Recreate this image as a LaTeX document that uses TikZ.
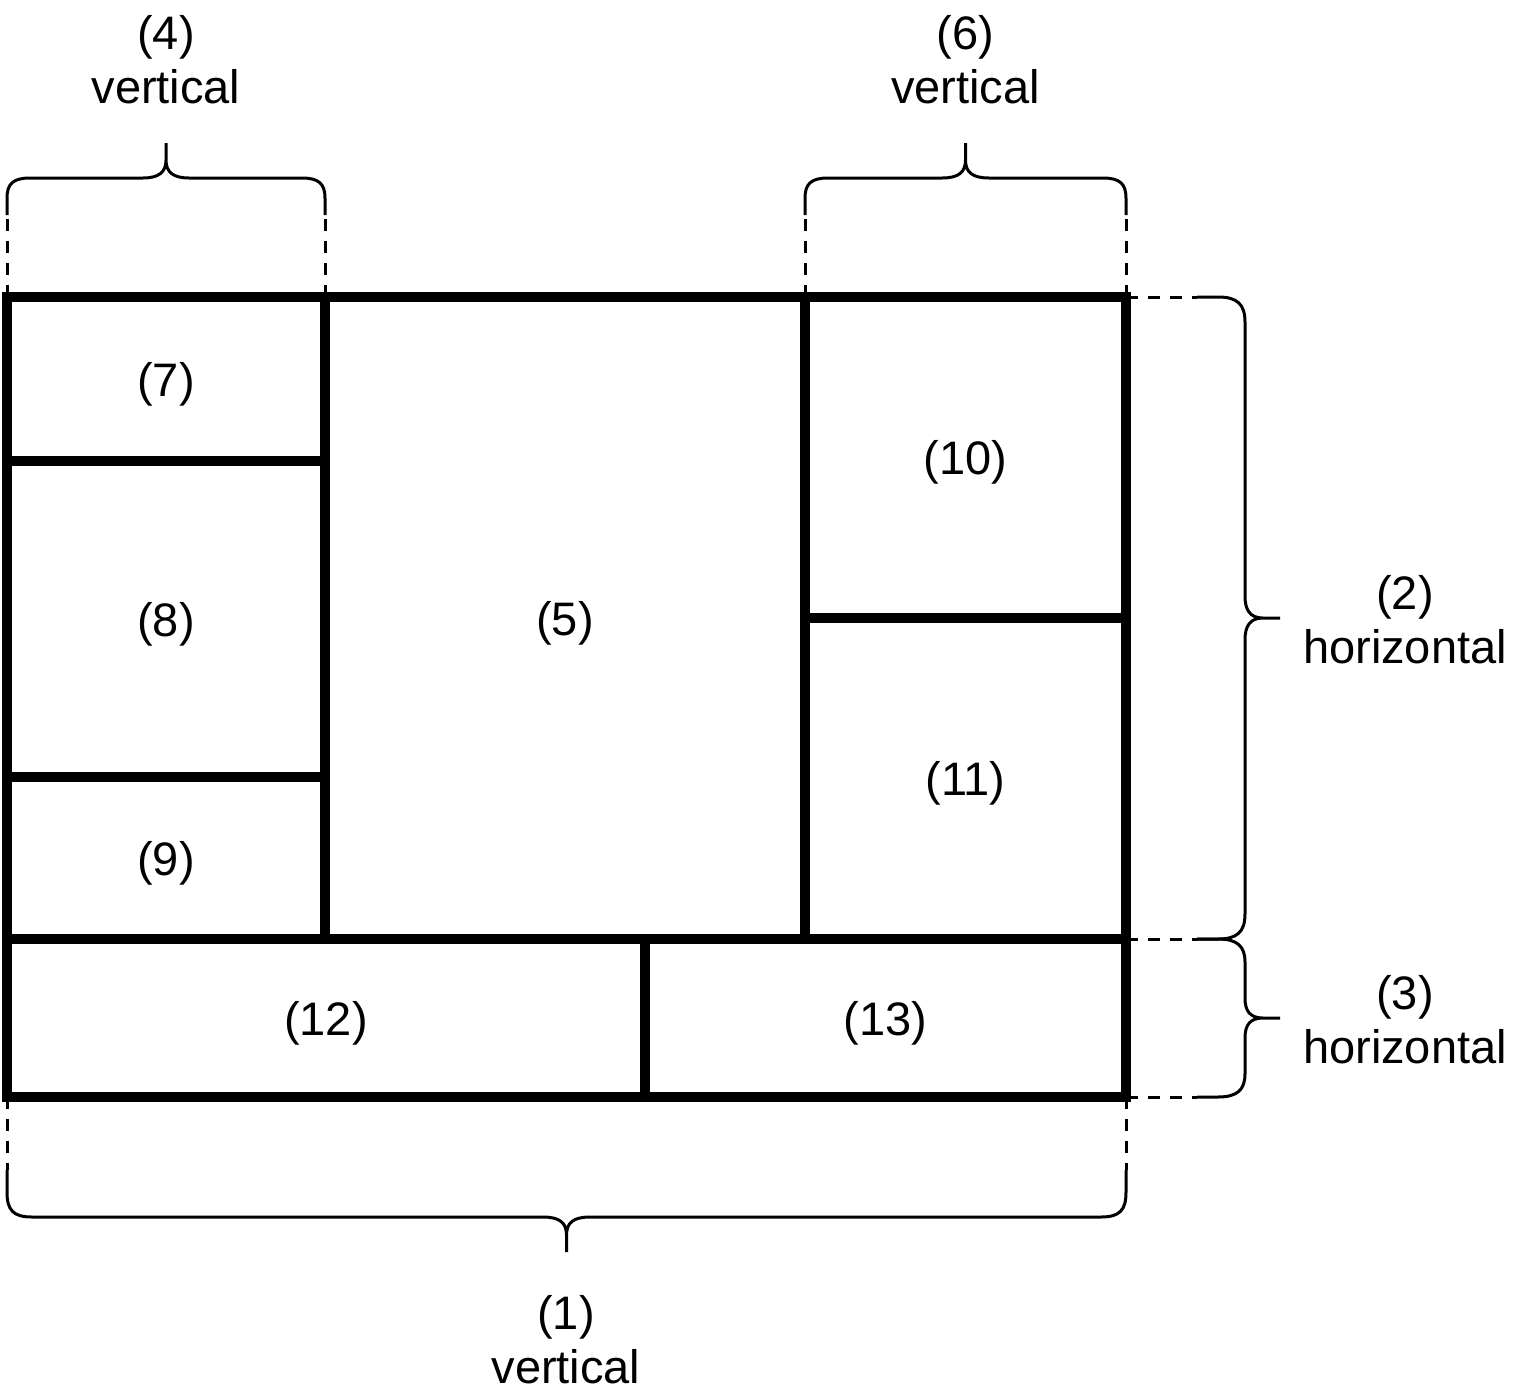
\documentclass[tikz,border=0pt]{standalone}
\usepackage{fontspec}
\setmainfont{Liberation Sans}
\begin{document}
\begin{tikzpicture}[x=1pt,y=-1pt,
  region/.style={draw=black, line width=10pt, inner sep=0pt, outer sep=0pt, text height=44pt, text depth=10pt, font=\fontsize{47}{54}\selectfont},
  lbl/.style={align=center, inner sep=0pt, font=\fontsize{47}{54}\selectfont},
  guide/.style={draw=black, line width=3pt, dash pattern=on 12pt off 10pt},
  brace/.style={draw=black, line width=3pt}]
\useasboundingbox (0,0) rectangle (1532,1392);
% regions
\node[region, minimum width=318pt, minimum height=164pt] (r7) at (166,379) {(7)};
\node[region, minimum width=318pt, minimum height=316pt] (r8) at (166,619) {(8)};
\node[region, minimum width=318pt, minimum height=162pt] (r9) at (166,858) {(9)};
\node[region, minimum width=480pt, minimum height=642pt] (r5) at (565,618) {(5)};
\node[region, minimum width=321pt, minimum height=321pt] (r10) at (965.5,457.5) {(10)};
\node[region, minimum width=321pt, minimum height=321pt] (r11) at (965.5,778.5) {(11)};
\node[region, minimum width=638pt, minimum height=158pt] (r12) at (326,1018) {(12)};
\node[region, minimum width=481pt, minimum height=158pt] (r13) at (885.5,1018) {(13)};
% brace end coordinates
\coordinate (b4l) at (7,215);
\coordinate (b4r) at (325,215);
\coordinate (b6l) at (805,215);
\coordinate (b6r) at (1126,215);
\coordinate (b2t) at (1197,297);
\coordinate (b2b) at (1197,939);
\coordinate (b3b) at (1197,1097);
\coordinate (b1l) at (7,1170);
\coordinate (b1r) at (1126,1170);
% dashed guides
\draw[guide] (r7.north west) -- (b4l);
\draw[guide] (r7.north east) -- (b4r);
\draw[guide] (r10.north west) -- (b6l);
\draw[guide] (r10.north east) -- (b6r);
\draw[guide] (r10.north east) -- (b2t);
\draw[guide] (r11.south east) -- (b2b);
\draw[guide] (r13.south east) -- (b3b);
\draw[guide] (r12.south west) -- (b1l);
\draw[guide] (r13.south east) -- (b1r);
% brace (4)
\draw[brace] (b4l) -- (7,198) .. controls (7,184) and (13,178) .. (30,178) -- (143,178) .. controls (159,178) and (166,172) .. (166,160) -- (166,143)
  (166,160) .. controls (166,172) and (173,178) .. (189,178) -- (302,178) .. controls (319,178) and (325,184) .. (325,198) -- (b4r);
% brace (6)
\draw[brace] (b6l) -- (805,198) .. controls (805,184) and (811,178) .. (828,178) -- (942,178) .. controls (959,178) and (965.5,172) .. (965.5,160) -- (965.5,143)
  (965.5,160) .. controls (965.5,172) and (972,178) .. (989,178) -- (1103,178) .. controls (1120,178) and (1126,184) .. (1126,198) -- (b6r);
% brace (1)
\draw[brace] (b1l) -- (7,1192) .. controls (7,1210) and (13,1217) .. (32,1217) -- (543,1217) .. controls (560,1217) and (566.5,1223) .. (566.5,1235) -- (566.5,1252)
  (566.5,1235) .. controls (566.5,1223) and (573,1217) .. (590,1217) -- (1101,1217) .. controls (1120,1217) and (1126,1210) .. (1126,1192) -- (b1r);
% brace (2)
\draw[brace] (b2t) -- (1218,297) .. controls (1237,297) and (1245,304) .. (1245,322) -- (1245,596) .. controls (1245,610) and (1250,618) .. (1263,618) -- (1280,618)
  (1263,618) .. controls (1250,618) and (1245,626) .. (1245,640) -- (1245,914) .. controls (1245,932) and (1237,939) .. (1218,939) -- (b2b);
% brace (3)
\draw[brace] (b2b) -- (1218,939) .. controls (1237,939) and (1245,946) .. (1245,962) -- (1245,998) .. controls (1245,1011) and (1250,1018) .. (1263,1018) -- (1280,1018)
  (1263,1018) .. controls (1250,1018) and (1245,1025) .. (1245,1038) -- (1245,1074) .. controls (1245,1090) and (1237,1097) .. (1218,1097) -- (b3b);
% labels
\node[lbl] (l4) at (166,60) {(4)\\vertical};
\node[lbl] (l6) at (965.5,60) {(6)\\vertical};
\node[lbl] (l2) at (1405,620) {(2)\\horizontal};
\node[lbl] (l3) at (1405,1020) {(3)\\horizontal};
\node[lbl] (l1) at (566,1340) {(1)\\vertical};
\end{tikzpicture}
\end{document}
